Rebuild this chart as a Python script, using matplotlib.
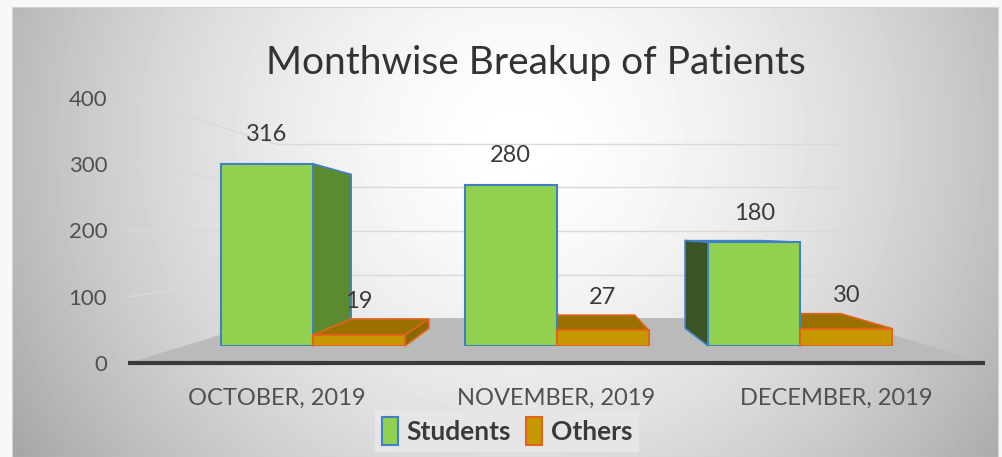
import numpy as np
import matplotlib
matplotlib.use("Agg")
import matplotlib.pyplot as plt
from matplotlib.patches import Patch, Polygon

# ---------------- data ----------------
categories = ["OCTOBER, 2019", "NOVEMBER, 2019", "DECEMBER, 2019"]
students = [316, 280, 180]
others = [19, 27, 30]
series_names = ["Students", "Others"]
y_ticks = [0, 100, 200, 300, 400]
title = "Monthwise Breakup of Patients"

# ---------------- style ----------------
W, H = 1003, 457
plt.rcParams['font.family'] = ['Lato', 'DejaVu Sans']
TXT = '#505050'

C_STU = '#92d050'; E_STU = '#3f80c6'; SIDE_R_STU = '#5b8a30'; SIDE_L_STU = '#3a5423'; TOP_STU = '#7aa840'
C_OTH = '#c89800'; E_OTH = '#e0641a'; SIDE_R_OTH = '#8c6800'; SIDE_L_OTH = '#8c6800'; TOP_OTH = '#9a7000'

fig = plt.figure(figsize=(W / 100, H / 100), dpi=100, facecolor='#f8f8f8')


def box(l, t, r, b):
    return [l / W, 1 - b / H, (r - l) / W, (b - t) / H]


# background panel with radial gradient
bg = fig.add_axes(box(12, 7, 998, 457))
yy, xx = np.mgrid[7:457, 12:998]
rr = np.sqrt(((xx - 520) / 500.0) ** 2 + ((yy - 140) / 480.0) ** 2)
val = 1 - 0.26 * np.clip(rr, 0, 1.2) ** 1.6
bg.imshow(val, cmap='gray', vmin=0, vmax=1, aspect='auto', interpolation='bilinear')
bg.set_xticks([]); bg.set_yticks([])
for sp in bg.spines.values():
    sp.set_color('#d4d4d4')
bg.set_zorder(0)

# main axes: front plane of the 3D box
X0, X1 = -0.53, 2.53
ax = fig.add_axes(box(128, 98, 985, 363))
ax.set_xlim(X0, X1)
ax.set_ylim(0, 400)
ax.patch.set_alpha(0)
ax.set_zorder(1)
for sp in ax.spines.values():
    sp.set_visible(False)

# perspective parameters (vanishing point in data units, depth scales)
XV, VH = 1.006, 197.7
S_F, S_B, S_W = 0.87, 0.735, 0.657


def P(x, v, s):
    return (XV + (x - XV) * s, VH + (v - VH) * s)


# floor
floor = Polygon([P(X0, 0, 1), P(X1, 0, 1), P(X1, 0, S_W), P(X0, 0, S_W)],
                closed=True, fc='#bababa', ec='none', clip_on=False, zorder=1)
ax.add_patch(floor)

# gridlines on back and left walls
for v in y_ticks[1:]:
    a, b = P(X0, v, S_W), P(X1, v, S_W)
    ax.plot([a[0], b[0]], [a[1], b[1]], color='#d9d9d9', lw=1, zorder=0.5, clip_on=False)
    c = P(X0, v, 1)
    ax.plot([c[0], a[0]], [c[1], a[1]], color='#d9d9d9', lw=1, zorder=0.5, clip_on=False)

# axis line
ax.plot([X0, X1], [0, 0], color='#3a3a3a', lw=3, zorder=2, clip_on=False, solid_capstyle='butt')

w = 0.3775
idx = np.arange(len(categories))


def faces(x0, x1, v, fc_top, fc_r, fc_l, ec, z):
    if v < VH:
        ax.add_patch(Polygon([P(x0, v, S_F), P(x1, v, S_F), P(x1, v, S_B), P(x0, v, S_B)],
                             fc=fc_top, ec=ec, lw=1.2, zorder=z, clip_on=False))
    if x1 < XV:
        ax.add_patch(Polygon([P(x1, 0, S_F), P(x1, v, S_F), P(x1, v, S_B), P(x1, 0, S_B)],
                             fc=fc_r, ec=ec, lw=1.2, zorder=z, clip_on=False))
    if x0 > XV:
        ax.add_patch(Polygon([P(x0, 0, S_F), P(x0, v, S_F), P(x0, v, S_B), P(x0, 0, S_B)],
                             fc=fc_l, ec=ec, lw=1.2, zorder=z, clip_on=False))


for i in idx:
    faces(i - w, i, students[i], TOP_STU, SIDE_R_STU, SIDE_L_STU, E_STU, 3)
for i in idx:
    faces(i, i + w, others[i], TOP_OTH, SIDE_R_OTH, SIDE_L_OTH, E_OTH, 4)

ax.set_yticks(y_ticks)
ax.set_xticks(idx)
ax.set_xticklabels(categories)
ax.tick_params(axis='y', length=0, pad=15, labelsize=16, labelcolor=TXT)
ax.tick_params(axis='x', length=0, pad=18, labelsize=17, labelcolor=TXT)

# front-face axes (projection of front plane at bar depth)
fig.canvas.draw()
inv = fig.transFigure.inverted()
p0 = inv.transform(ax.transData.transform(P(X0, 0, S_F)))
p1 = inv.transform(ax.transData.transform(P(X1, 400, S_F)))
axf = fig.add_axes([p0[0], p0[1], p1[0] - p0[0], p1[1] - p0[1]])
axf.set_xlim(X0, X1)
axf.set_ylim(0, 400)
axf.axis('off')
axf.set_zorder(2)

axf.bar(idx - w, students, width=w, align='edge', color=C_STU, edgecolor=E_STU, lw=1.5, zorder=3)
axf.bar(idx, others, width=w, align='edge', color=C_OTH, edgecolor=E_OTH, lw=1.5, zorder=3)

for i in idx:
    axf.annotate(str(students[i]), (i - w / 2, students[i]), xytext=(0, 21), textcoords='offset points',
                 ha='center', va='center', fontsize=17, color='#3a3a3a', annotation_clip=False)
    axf.annotate(str(others[i]), (i + w / 2, others[i]), xytext=(0, 24), textcoords='offset points',
                 ha='center', va='center', fontsize=17, color='#3a3a3a', annotation_clip=False)

fig.text(536 / W, 1 - 74 / H, title, ha='center', va='baseline', fontsize=28, color='#333333', zorder=5)

handles = [Patch(fc=C_STU, ec=E_STU, lw=1.5), Patch(fc=C_OTH, ec=E_OTH, lw=1.5)]
leg = fig.legend(handles, series_names, loc='center', bbox_to_anchor=(507 / W, 1 - 431 / H), ncol=2,
                 frameon=True, facecolor='#e6e6e6', edgecolor='none', fancybox=False, framealpha=1,
                 handlelength=0.6, handleheight=1.25, handletextpad=0.35, columnspacing=0.55,
                 borderpad=0.25, prop={'size': 19, 'weight': 'bold'})
for t in leg.get_texts():
    t.set_color('#3a3a3a')
leg.set_zorder(6)

fig.savefig('out.png', dpi=100, facecolor=fig.get_facecolor())
